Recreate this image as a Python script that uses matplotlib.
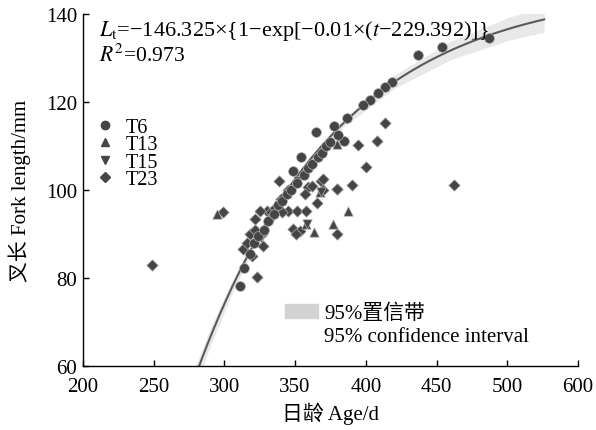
import numpy as np
import matplotlib
matplotlib.use("Agg")
import matplotlib.pyplot as plt
from matplotlib.lines import Line2D
from matplotlib.patches import Patch

plt.rcParams["font.family"] = ["Liberation Serif", "Noto Sans CJK SC"]
plt.rcParams["mathtext.fontset"] = "stix"

# von Bertalanffy fit shown in the chart
L_INF, K, T0 = 146.325, 0.01, 229.392

# 95% band half-width
band_age = [276, 290, 305, 320, 340, 360, 385, 420, 460, 500, 526]
band_half = [2.6, 2.0, 1.5, 1.1, 0.8, 0.7, 0.9, 1.5, 2.1, 2.6, 2.9]

# T6 (circles)
t6_age = [487, 454, 437, 418.5, 413.6, 408.6, 403, 398, 387, 377.5, 365, 384.6,
          354, 348.5, 313.9, 311, 318, 321, 324, 328, 331, 335, 338, 341, 344,
          347, 351, 356, 359, 362, 366, 369, 372, 375, 380]
t6_len = [134.5, 132.5, 130.7, 124.5, 123.4, 122, 120.5, 119.3, 116.4, 114.5,
          113.2, 111.1, 107.5, 104.3, 82.3, 78.2, 85.5, 88, 89.5, 91, 93, 94.5,
          96.5, 97.5, 99, 100, 101.5, 103.5, 105, 106, 107.5, 108.5, 110, 111, 112.5]

# T13 (triangles up)
t13_age = [379.6, 387.4, 376.8, 363.4, 294.8, 367.6, 357.7]
t13_len = [110.5, 95.2, 92.3, 90.4, 94.5, 99.5, 92.3]

# T15 (triangles down)
t15_age = [358.4, 368, 326, 334, 346, 352]
t15_len = [92.3, 99.5, 89, 93.5, 99, 102]

# T23 (diamonds)
t23_age = [249, 299, 462.4, 413.6, 408, 394.5, 400, 390, 379.6, 368.3, 370,
           359, 357, 365.5, 338.6, 379.6, 379.6, 345, 351.3, 357.7, 348.5, 353.5,
           350.6, 323, 313, 319.5, 330, 321.6, 318, 326.5, 327, 325, 333, 341,
           369.7, 362, 340, 336, 345, 322, 316]
t23_len = [83, 95, 101.1, 115.2, 111.1, 110.2, 105.2, 101.1, 100.2, 102, 100,
           100.7, 99, 97, 102, 100.2, 90, 95.2, 95.2, 95.2, 91.1, 90.7, 90,
           80.2, 86.6, 85, 95.2, 93.4, 90, 90, 87.3, 95.2, 95, 95, 102.5, 101,
           98, 96, 100, 91, 88]

x_ticks = [200, 250, 300, 350, 400, 450, 500, 550]
x_labels = ["200", "250", "300", "350", "400", "450", "500", "600"]
y_ticks = [60, 80, 100, 120, 140]


def vbgf(t):
    t = np.asarray(t, dtype=float)
    return L_INF * (1 - np.exp(-K * (t - T0)))


fig = plt.figure(figsize=(5.96, 4.31), dpi=100)
ax = fig.add_axes([0.139, 0.1485, 0.831, 0.8165])

fit_c = vbgf(band_age)
ax.fill_between(band_age, fit_c - np.array(band_half), fit_c + np.array(band_half),
                color="#e8e8e8", lw=0, zorder=1)
tt = np.linspace(276, 526, 300)
ax.plot(tt, vbgf(tt), color="#5a5a5a", lw=1.5, zorder=2)

mk = dict(color="#454545", edgecolors="#b0b0b0", linewidths=0.5, zorder=3)
ax.scatter(t23_age, t23_len, marker="D", s=34, **mk)
ax.scatter(t13_age, t13_len, marker="^", s=46, **mk)
ax.scatter(t15_age, t15_len, marker="v", s=46, **mk)
ax.scatter(t6_age, t6_len, marker="o", s=50, **mk)

ax.set_xlim(200, 550)
ax.set_ylim(60, 140)
ax.set_xticks(x_ticks)
ax.set_xticklabels(x_labels)
ax.set_yticks(y_ticks)
for s in ("top", "right"):
    ax.spines[s].set_visible(False)
for s in ("left", "bottom"):
    ax.spines[s].set_linewidth(1.0)
ax.tick_params(direction="in", length=4, width=1, labelsize=15, pad=4)
ax.tick_params(axis="x", pad=8)
ax.set_xlabel("日龄 Age/d", fontsize=15, labelpad=4)
ax.set_ylabel("叉长 Fork length/mm", fontsize=15, labelpad=11)

ax.text(0.032, 0.99, r"$L_{\mathrm{t}}$=−146.325×{1−exp[−0.01×($t$−229.392)]}",
        transform=ax.transAxes, fontsize=16, va="top")
ax.text(0.032, 0.915, r"$R^2$=0.973", transform=ax.transAxes, fontsize=15.5,
        va="top")

handles = [Line2D([], [], ls="none", marker=m, color="#454545", markersize=ms)
           for m, ms in (("o", 6), ("^", 6), ("v", 6), ("D", 5))]
leg = ax.legend(handles, ["T6", "T13", "T15", "T23"], loc="upper left",
                bbox_to_anchor=(0.0, 0.74), frameon=False, fontsize=14.5,
                handlelength=1.0, handletextpad=0.55, labelspacing=-0.08,
                borderaxespad=0.2)
ax.add_artist(leg)

ax.legend([Patch(color="#d2d2d2"), Patch(alpha=0)],
          ["95%置信带", "95% confidence interval"], loc="upper left",
          bbox_to_anchor=(0.37, 0.23), frameon=False, fontsize=15,
          handlelength=1.6, handleheight=0.7, handletextpad=0.3,
          labelspacing=0.15)

fig.savefig("out.png", dpi=100)
